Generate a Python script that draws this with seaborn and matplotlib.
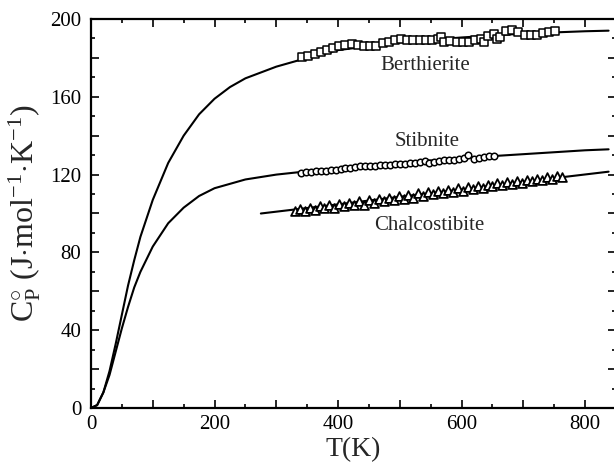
import matplotlib
matplotlib.use("Agg")
import matplotlib.pyplot as plt
import seaborn as sns
import numpy as np
from matplotlib.ticker import MultipleLocator, FuncFormatter

# ---- data ----
# fitted curves
curve_T_upper = [0, 10, 20, 30, 40, 50, 60, 70, 80, 100, 125, 150, 175, 200, 225, 250, 300, 350, 400, 500, 600, 700, 800, 838]
curve_berthierite = [0, 1.5, 8, 19, 33, 48, 63, 76, 88, 107, 126, 140, 151, 159, 165, 169.5, 175.5, 180, 184, 188, 190.5, 192.5, 193.7, 194]
curve_T_lower = [0, 10, 20, 30, 40, 50, 60, 70, 80, 100, 125, 150, 175, 200, 250, 300, 350, 400, 500, 600, 700, 800, 838]
curve_stibnite = [0, 1.5, 8, 17, 29, 41, 52, 62, 70, 83, 95, 103, 109, 113, 117.5, 120, 121.7, 123, 126, 128.5, 130.5, 132.5, 133]
curve_T_chalco = [275, 400, 500, 600, 700, 838]
curve_chalco = [100.0, 104.7, 108.6, 112.4, 116.3, 121.5]

# measured points
berth_T = [342, 352, 362, 372, 382, 392, 402, 412, 422, 432, 442, 452, 462, 472, 482, 492, 502, 512, 522,
           532, 542, 552, 562, 567, 572, 582, 592, 602, 612, 622, 632, 637, 642, 652, 657, 662, 672, 682,
           692, 702, 712, 722, 732, 742, 752]
berth_Cp = [180.3, 181.2, 182.2, 183.0, 184.0, 185.0, 186.0, 186.5, 187.0, 186.8, 186.2, 186.0, 186.3, 187.5,
            188.2, 189.0, 189.6, 189.4, 189.3, 189.3, 189.2, 189.3, 189.8, 191.0, 188.3, 188.6, 188.2, 188.0,
            188.2, 189.0, 189.7, 188.2, 191.2, 192.4, 189.5, 191.0, 194.0, 194.3, 193.5, 192.0, 191.8, 192.0,
            192.6, 193.3, 194.0]

stib_T = [340, 348, 356, 364, 372, 380, 388, 396, 404, 412, 420, 428, 436, 444, 452, 460, 468, 476, 484, 492,
          500, 508, 516, 524, 532, 540, 548, 556, 564, 572, 580, 588, 596, 604, 610, 620, 628, 636, 644, 652]
stib_Cp = [121.0, 121.3, 121.5, 121.6, 121.9, 122.0, 122.4, 122.5, 122.9, 123.3, 123.6, 123.8, 124.2, 124.3,
           124.5, 124.6, 124.8, 125.0, 125.0, 125.2, 125.4, 125.5, 125.8, 126.0, 126.3, 126.8, 126.0, 126.6,
           127.2, 127.4, 127.5, 127.5, 127.8, 128.4, 130.0, 128.0, 128.6, 129.0, 129.4, 129.6]

chalco_T = [330, 338, 346, 354, 362, 370, 378, 386, 394, 402, 410, 418, 426, 434, 442, 450, 458, 466, 474, 482,
            490, 498, 506, 514, 522, 530, 538, 546, 554, 562, 570, 578, 586, 594, 602, 610, 618, 626, 634, 642,
            650, 658, 666, 674, 682, 690, 698, 706, 714, 722, 730, 738, 746, 754, 762]
chalco_Cp = [101.5, 102.3, 101.2, 103.0, 102.0, 103.6, 102.6, 104.3, 103.0, 105.0, 103.6, 105.6, 104.2, 106.3,
             104.6, 106.8, 105.5, 107.4, 106.2, 108.1, 107.0, 108.8, 107.6, 109.5, 108.2, 110.3, 109.0, 111.0,
             110.0, 111.6, 110.4, 112.2, 111.0, 112.9, 111.8, 113.6, 112.4, 114.2, 113.0, 114.8, 113.9, 115.5,
             114.5, 116.2, 115.0, 116.8, 115.8, 117.3, 116.5, 117.9, 117.0, 118.6, 117.8, 119.3, 118.6]

labels = ["Berthierite", "Stibnite", "Chalcostibite"]
label_T = [541, 544, 547]
label_Cp = [176, 137, 94]

x_ticklabels = ["0", "200", "400", "600", "800"]
y_ticklabels = ["0", "40", "80", "120", "160", "200"]

# ---- style ----
sns.set_style("ticks")
plt.rcParams["font.family"] = ["Liberation Serif", "DejaVu Serif"]
plt.rcParams["mathtext.fontset"] = "custom"
plt.rcParams["mathtext.rm"] = "Liberation Serif"
plt.rcParams["mathtext.it"] = "Liberation Serif:italic"

fig = plt.figure(figsize=(6.14, 4.69), dpi=100)
ax = fig.add_axes([91 / 614, 61 / 469, 525 / 614, 389 / 469])

lc = "black"
sns.lineplot(x=curve_T_upper, y=curve_berthierite, ax=ax, color=lc, lw=1.5, sort=False)
sns.lineplot(x=curve_T_lower, y=curve_stibnite, ax=ax, color=lc, lw=1.5, sort=False)
sns.lineplot(x=curve_T_chalco, y=curve_chalco, ax=ax, color=lc, lw=1.5, sort=False)

sns.scatterplot(x=berth_T, y=berth_Cp, ax=ax, marker="s", s=26, color="white", edgecolor="black", linewidth=1.1, zorder=3)
sns.scatterplot(x=stib_T, y=stib_Cp, ax=ax, marker="o", s=22, color="white", edgecolor="black", linewidth=1.1, zorder=3)
sns.scatterplot(x=chalco_T, y=chalco_Cp, ax=ax, marker="^", s=40, color="white", edgecolor="black", linewidth=1.3, zorder=3)

for lab, tx, ty in zip(labels, label_T, label_Cp):
    ax.text(tx, ty, lab, ha="center", va="center", fontsize=15)

ax.set_xlim(0, 850)
ax.set_ylim(0, 200)
ax.xaxis.set_major_locator(MultipleLocator(100))
ax.xaxis.set_minor_locator(MultipleLocator(50))
ax.yaxis.set_major_locator(MultipleLocator(20))
ax.yaxis.set_minor_locator(MultipleLocator(10))
ax.xaxis.set_major_formatter(FuncFormatter(lambda v, p: x_ticklabels[int(round(v / 200))] if int(round(v)) % 200 == 0 and 0 <= int(round(v / 200)) < len(x_ticklabels) else ""))
ax.yaxis.set_major_formatter(FuncFormatter(lambda v, p: y_ticklabels[int(round(v / 40))] if int(round(v)) % 40 == 0 and 0 <= int(round(v / 40)) < len(y_ticklabels) else ""))

ax.tick_params(which="both", direction="in", top=True, right=True, labelsize=15, width=1.2, colors="black")
ax.tick_params(axis="y", pad=7)
ax.tick_params(axis="x", pad=5)
ax.tick_params(which="major", length=6)
ax.tick_params(which="minor", length=3)
for sp in ax.spines.values():
    sp.set_linewidth(1.6)
    sp.set_color("black")

ax.set_xlabel("T(K)", fontsize=20, labelpad=2)
ax.set_ylabel(r"$\mathrm{C}_{\mathrm{P}}^{\circ}$ (J$\cdot$mol$^{\mathrm{-1}}$$\cdot$K$^{\mathrm{-1}}$)", fontsize=23, labelpad=5)

fig.savefig("out.png", dpi=100)
